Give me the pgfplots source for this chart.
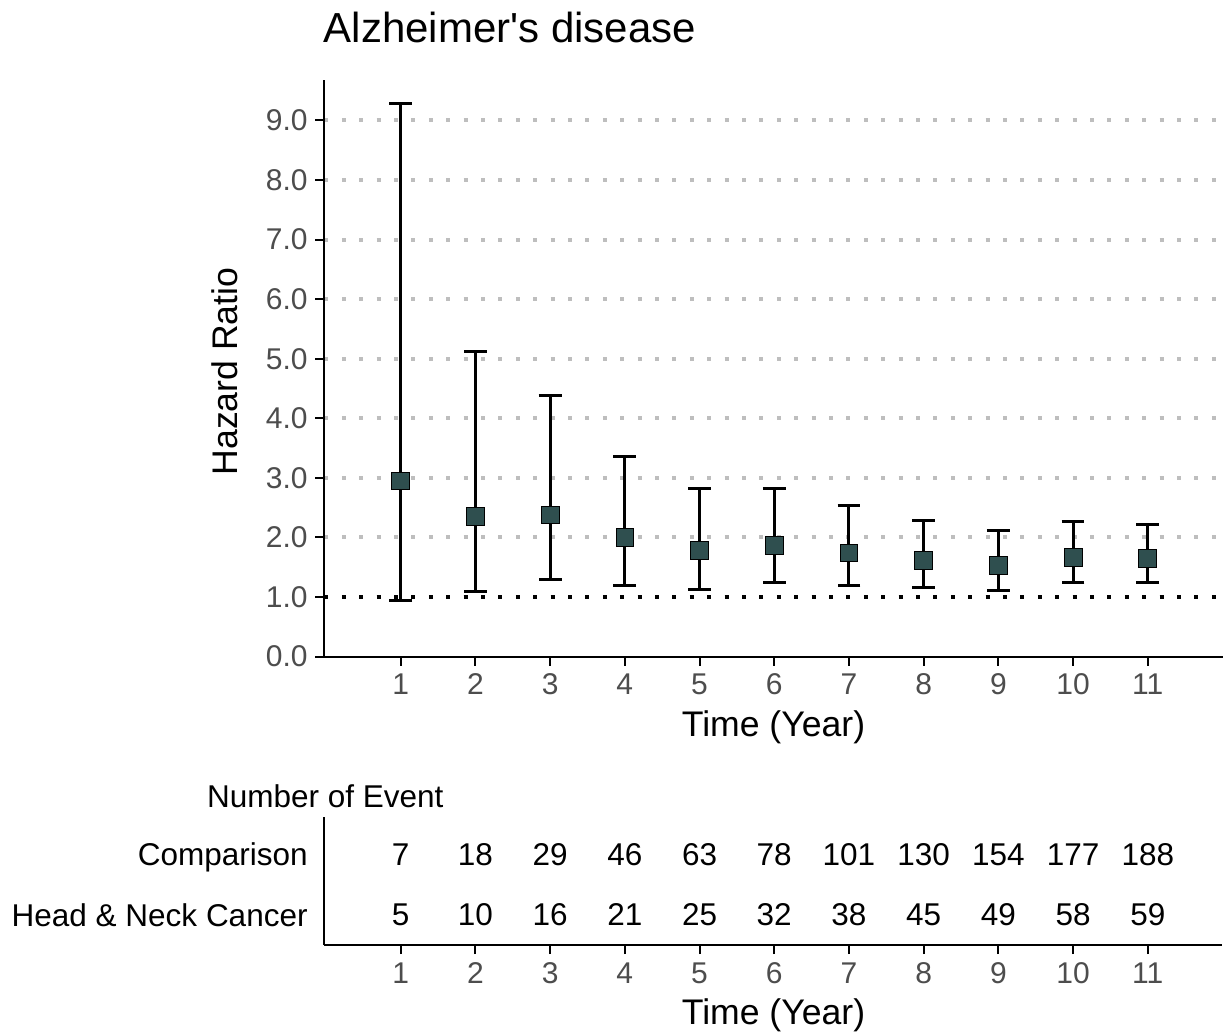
\documentclass[border=0pt]{standalone}
\usepackage{fontspec}
\setmainfont{Liberation Sans}
\usepackage{pgfplots}
\pgfplotsset{compat=1.18}
\usepackage{pgfplotstable}
\definecolor{markfill}{HTML}{2F4F4F}
\definecolor{gridgray}{HTML}{BEBEBE}
\definecolor{tickgray}{HTML}{4D4D4D}

\pgfplotstableread{
x y lo hi
1 2.95 0.94 9.29
2 2.36 1.09 5.12
3 2.38 1.30 4.38
4 2.00 1.20 3.36
5 1.78 1.12 2.83
6 1.87 1.24 2.83
7 1.74 1.20 2.53
8 1.62 1.16 2.29
9 1.53 1.11 2.12
10 1.67 1.24 2.26
11 1.65 1.24 2.22
}\hrdata

\pgfplotstableread{
x comp hn
1 7 5
2 18 10
3 29 16
4 46 21
5 63 25
6 78 32
7 101 38
8 130 45
9 154 49
10 177 58
11 188 59
}\events

\pgfplotsset{
  common/.style={
    scale only axis, width=449pt,
    xmin=-0.02, xmax=12,
    axis lines=left,
    axis line style={-, line width=1pt, black},
    tick align=outside, major tick length=4.5pt,
    tick style={line width=1pt, black},
    xtick={1,...,11},
    /pgf/number format/assume math mode=true,
    tick label style={font=\fontsize{15}{18}\selectfont, text=tickgray},
    xticklabel style={inner sep=0pt, anchor=base, yshift=-14.7pt},
  }
}

\begin{document}
\begin{tikzpicture}
\begin{axis}[
  common,
  at={(0,0)}, anchor=south west,
  height=288.3pt,
  ymin=0, ymax=9.68,
  ytick={1,...,9},
  extra y ticks={0},
  extra y tick style={grid=none},
  yticklabel style={inner sep=0pt, anchor=east, xshift=-3.75pt,
    /pgf/number format/fixed, /pgf/number format/fixed zerofill,
    /pgf/number format/precision=1},
  ymajorgrids,
  major grid style={gridgray, line width=2pt, dash pattern=on 2pt off 6.7pt},
]
\addplot[black, line width=2pt, dash pattern=on 2pt off 6.7pt, forget plot]
  coordinates {(-0.02,1) (12,1)};
\addplot[only marks, mark=square*, mark size=4.45pt,
  mark options={fill=markfill, draw=black, line width=0.4pt},
  error bars/.cd, y dir=both, y explicit,
  error bar style={line width=1.5pt, black},
  error mark options={rotate=90, line width=1.5pt, black, mark size=5.7pt}]
  table[x=x, y=y,
    y error plus expr=\thisrow{hi}-\thisrow{y},
    y error minus expr=\thisrow{y}-\thisrow{lo}] {\hrdata};
\end{axis}

\begin{axis}[
  common,
  at={(0,-144.2pt)}, anchor=south west,
  height=64pt,
  ymin=0.5, ymax=2.62,
  ytick={1,2},
  yticklabels={Head \& Neck Cancer, Comparison},
  ytick style={draw=none},
  yticklabel style={inner sep=0pt, anchor=base east, xshift=-3.75pt, yshift=-5.6pt,
    font=\fontsize{15.75}{18}\selectfont, text=black},
]
\addplot[draw=none, mark=none, nodes near coords, point meta=explicit symbolic,
  nodes near coords style={anchor=center, inner sep=0pt,
    font=\fontsize{15.75}{18}\selectfont, text=black}]
  table[x=x, y expr=2, meta=comp] {\events};
\addplot[draw=none, mark=none, nodes near coords, point meta=explicit symbolic,
  nodes near coords style={anchor=center, inner sep=0pt,
    font=\fontsize{15.75}{18}\selectfont, text=black}]
  table[x=x, y expr=1, meta=hn] {\events};
\end{axis}

\node[anchor=base west, inner sep=0pt, font=\fontsize{21}{25}\selectfont]
  at (-0.5pt,307pt) {Alzheimer\textquotesingle s disease};
\node[rotate=90, anchor=base, inner sep=0pt, font=\fontsize{17.8}{21}\selectfont]
  at (-43.25pt,142.5pt) {Hazard Ratio};
\node[anchor=base, inner sep=0pt, font=\fontsize{17.8}{21}\selectfont]
  at (224.5pt,-40.2pt) {Time (Year)};
\node[anchor=base west, inner sep=0pt, font=\fontsize{15.75}{18}\selectfont]
  at (-58.9pt,-75.5pt) {Number of Event};
\node[anchor=base, inner sep=0pt, font=\fontsize{17.8}{21}\selectfont]
  at (224.5pt,-184.2pt) {Time (Year)};

\pgfresetboundingbox
\path[use as bounding box] (-162.25pt,-188.7pt) rectangle (449.25pt,328.3pt);
\end{tikzpicture}
\end{document}
